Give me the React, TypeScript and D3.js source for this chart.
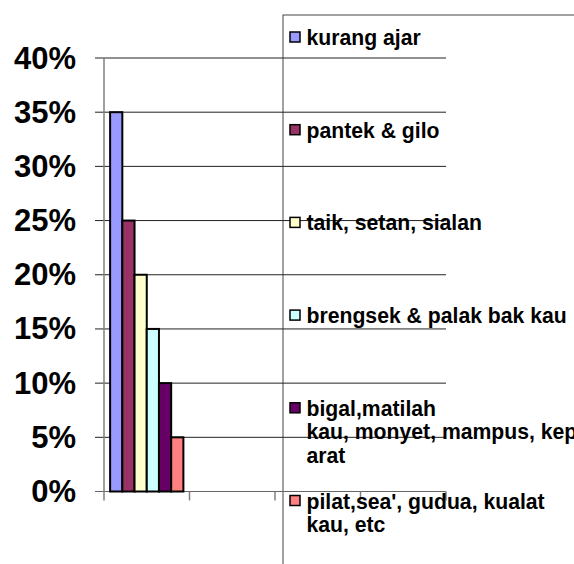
import React from 'react';
import * as d3 from 'd3';

// one filled category, three empty ones (the axis shows four bands)
const categories = ['A', 'B', 'C', 'D'];
const seriesNames = [
  'kurang ajar',
  'pantek & gilo',
  'taik, setan, sialan',
  'brengsek & palak bak kau',
  'bigal,matilah kau, monyet, mampus, keparat',
  "pilat,sea', gudua, kualat kau, etc",
];
const seriesValues = [0.35, 0.25, 0.2, 0.15, 0.1, 0.05];
const legendLines = [
  ['kurang ajar'],
  ['pantek & gilo'],
  ['taik, setan, sialan'],
  ['brengsek & palak bak kau'],
  ['bigal,matilah', 'kau, monyet, mampus, kep', 'arat'],
  ["pilat,sea', gudua, kualat", 'kau, etc'],
];
const yTicks = [0, 0.05, 0.1, 0.15, 0.2, 0.25, 0.3, 0.35, 0.4];
const colors = ['#9999FF', '#993366', '#FFFFCC', '#CCFFFF', '#660066', '#FF8080'];

const W = 574,
  H = 564;
const plot = { left: 104, right: 446, top: 58, bottom: 491.5 };
const font = '"Liberation Sans", Arial, sans-serif';

export default function App() {
  const x0 = d3.scaleBand().domain(categories).range([plot.left, plot.right]);
  const x1 = d3
    .scaleBand()
    .domain(seriesNames)
    .range([0, x0.bandwidth()])
    .paddingOuter(0.5);
  const y = d3.scaleLinear().domain([0, 0.4]).range([plot.bottom, plot.top]);
  const fmt = d3.format('.0%');

  const legendX = 283,
    legendTop = 15,
    firstBaseline = 45,
    itemStep = 92.7,
    lineStep = 23.5;

  return (
    <svg
      width={W}
      height={H}
      style={{ position: 'absolute', left: 0, top: 0, background: '#fff' }}
    >
      {/* legend frame */}
      <rect
        x={legendX}
        y={legendTop}
        width={W}
        height={H}
        fill="none"
        stroke="#444"
        strokeWidth={1}
      />

      {/* gridlines + y ticks */}
      {yTicks.map((t) => (
        <line
          key={'g' + t}
          x1={plot.left - 9}
          x2={plot.right}
          y1={y(t)}
          y2={y(t)}
          stroke={t === 0 ? '#666' : '#222'}
          strokeWidth={1}
        />
      ))}
      {yTicks.map((t) => (
        <text
          key={'l' + t}
          x={76}
          y={y(t) + 10.5}
          textAnchor="end"
          fontFamily={font}
          fontWeight="bold"
          fontSize={31}
        >
          {fmt(t)}
        </text>
      ))}

      {/* y axis */}
      <line x1={plot.left} x2={plot.left} y1={plot.top} y2={plot.bottom} stroke="#808080" strokeWidth={1.5} />

      {/* x ticks at band boundaries */}
      {categories.map((c) => (
        <line
          key={'t' + c}
          x1={x0(c)!}
          x2={x0(c)!}
          y1={plot.bottom}
          y2={plot.bottom + 9}
          stroke="#808080"
          strokeWidth={1.5}
        />
      ))}
      <line x1={plot.right} x2={plot.right} y1={plot.bottom} y2={plot.bottom + 9} stroke="#808080" strokeWidth={1.5} />

      {/* bars, first category only */}
      {seriesNames.map((s, i) => (
        <rect
          key={s}
          x={x0(categories[0])! + x1(s)!}
          y={y(seriesValues[i])}
          width={x1.bandwidth()}
          height={plot.bottom - y(seriesValues[i])}
          fill={colors[i]}
          stroke="#000"
          strokeWidth={2}
        />
      ))}

      {/* legend entries */}
      {legendLines.map((lines, i) => {
        const by = firstBaseline + i * itemStep;
        return (
          <g key={'lg' + i}>
            <rect
              x={290}
              y={by - 13}
              width={10}
              height={10}
              fill={colors[i]}
              stroke="#000"
              strokeWidth={1.5}
            />
            {lines.map((ln, j) => (
              <text
                key={j}
                x={306.5}
                y={by + j * lineStep}
                fontFamily={font}
                fontWeight="bold"
                fontSize={21.2}
              >
                {ln}
              </text>
            ))}
          </g>
        );
      })}
    </svg>
  );
}
